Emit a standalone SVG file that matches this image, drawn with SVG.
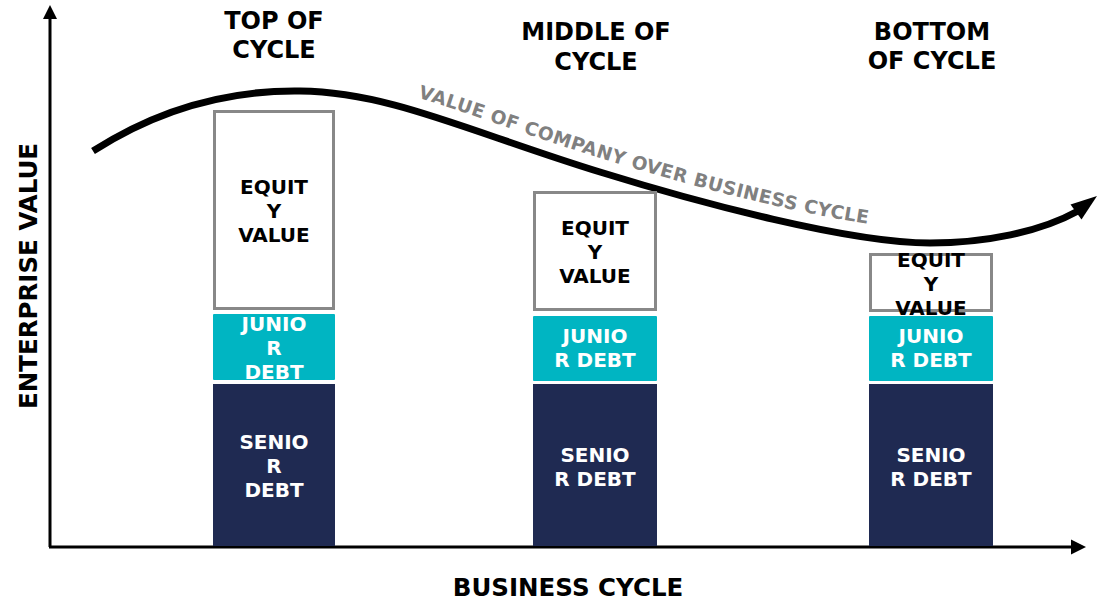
<svg xmlns="http://www.w3.org/2000/svg" width="1103" height="600" viewBox="0 0 1103 600">
  <style>
    .lbl { font-family: "DejaVu Sans", Verdana, sans-serif; font-weight: bold; text-anchor: middle; }
    .title { font-size: 24px; fill: #000; }
    .axislbl { font-size: 24.5px; fill: #000; }
    .box { font-size: 20px; }
    .dark { fill: #000; }
    .light { fill: #fff; }
    .equity { fill: #fff; stroke: #888; stroke-width: 3; }
    .junior { fill: #00B5C2; }
    .senior { fill: #1F2A52; }
    .axis { stroke: #000; stroke-width: 3; fill: none; }
    .curvelbl { font-family: "DejaVu Sans", Verdana, sans-serif; font-weight: bold; font-size: 18.5px; letter-spacing: 0.4px; fill: #808080; text-anchor: start; }
  </style>
  <defs>
    <path id="curveText" d="M300,77 C390,78 470,118 600,158 C700,189 850,229 930,229"/>
  </defs>
  <rect width="1103" height="600" fill="#fff"/>

  <!-- axes and value curve -->
  <g id="connectors">
    <line class="axis" x1="50" y1="547" x2="50" y2="18"/>
    <polygon points="50,5 43,19 57,19" fill="#000"/>
    <line class="axis" x1="49" y1="547" x2="1072" y2="547"/>
    <polygon points="1086,547 1071,539.5 1071,554.5" fill="#000"/>
    <path d="M93,151 C160,108 230,90 300,91 C390,92 470,132 600,172 C700,203 850,243 930,243 C985,243 1040,232 1078,211" fill="none" stroke="#000" stroke-width="7"/>
    <polygon points="1097,196 1070.5,204.5 1081.5,219.5" fill="#000"/>
  </g>

  <text class="curvelbl"><textPath href="#curveText" startOffset="120">VALUE OF COMPANY OVER BUSINESS CYCLE</textPath></text>

  <!-- axis labels -->
  <text class="lbl axislbl" x="568" y="596">BUSINESS CYCLE</text>
  <text class="lbl axislbl" transform="translate(37,276) rotate(-90)">ENTERPRISE VALUE</text>

  <!-- phase titles -->
  <g id="title-top">
    <text class="lbl title" x="274" y="29">TOP OF</text>
    <text class="lbl title" x="274" y="58">CYCLE</text>
  </g>
  <g id="title-middle">
    <text class="lbl title" x="596" y="40">MIDDLE OF</text>
    <text class="lbl title" x="596" y="70">CYCLE</text>
  </g>
  <g id="title-bottom">
    <text class="lbl title" x="932" y="40">BOTTOM</text>
    <text class="lbl title" x="932" y="69">OF CYCLE</text>
  </g>

  <!-- top of cycle stack -->
  <g id="top-equity">
    <rect class="equity" x="214.5" y="111.5" width="119" height="197"/>
    <text class="lbl box dark" x="274" y="194">EQUIT</text>
    <text class="lbl box dark" x="274" y="218">Y</text>
    <text class="lbl box dark" x="274" y="242">VALUE</text>
  </g>
  <g id="top-junior">
    <rect class="junior" x="213" y="314" width="122" height="66" rx="1"/>
    <text class="lbl box light" x="274" y="331">JUNIO</text>
    <text class="lbl box light" x="274" y="355">R</text>
    <text class="lbl box light" x="274" y="379">DEBT</text>
  </g>
  <g id="top-senior">
    <rect class="senior" x="213" y="384" width="122" height="162"/>
    <text class="lbl box light" x="274" y="449">SENIO</text>
    <text class="lbl box light" x="274" y="473">R</text>
    <text class="lbl box light" x="274" y="497">DEBT</text>
  </g>

  <!-- middle of cycle stack -->
  <g id="middle-equity">
    <rect class="equity" x="534.5" y="192.5" width="121" height="117"/>
    <text class="lbl box dark" x="595" y="235">EQUIT</text>
    <text class="lbl box dark" x="595" y="259">Y</text>
    <text class="lbl box dark" x="595" y="283">VALUE</text>
  </g>
  <g id="middle-junior">
    <rect class="junior" x="533" y="316" width="124" height="65" rx="1"/>
    <text class="lbl box light" x="595" y="343">JUNIO</text>
    <text class="lbl box light" x="595" y="367">R DEBT</text>
  </g>
  <g id="middle-senior">
    <rect class="senior" x="533" y="384" width="124" height="162"/>
    <text class="lbl box light" x="595" y="462">SENIO</text>
    <text class="lbl box light" x="595" y="486">R DEBT</text>
  </g>

  <!-- bottom of cycle stack -->
  <g id="bottom-equity">
    <rect class="equity" x="870.5" y="254.5" width="121" height="56"/>
    <text class="lbl box dark" x="931" y="267">EQUIT</text>
    <text class="lbl box dark" x="931" y="291">Y</text>
    <text class="lbl box dark" x="931" y="315">VALUE</text>
  </g>
  <g id="bottom-junior">
    <rect class="junior" x="869" y="316" width="124" height="65" rx="1"/>
    <text class="lbl box light" x="931" y="343">JUNIO</text>
    <text class="lbl box light" x="931" y="367">R DEBT</text>
  </g>
  <g id="bottom-senior">
    <rect class="senior" x="869" y="384" width="124" height="162"/>
    <text class="lbl box light" x="931" y="462">SENIO</text>
    <text class="lbl box light" x="931" y="486">R DEBT</text>
  </g>
</svg>
